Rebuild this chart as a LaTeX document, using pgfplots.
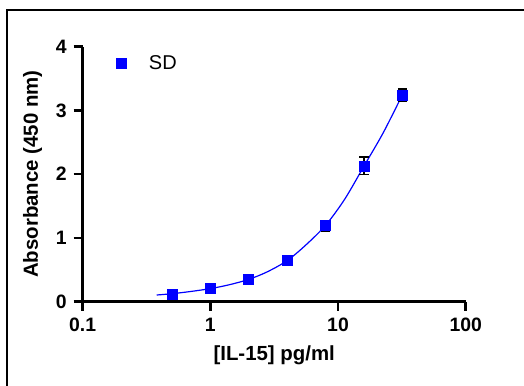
\documentclass[border=0pt]{standalone}
\usepackage{fontspec}
\setmainfont{Liberation Sans}
\usepackage{pgfplots}
\pgfplotsset{compat=1.18}
\definecolor{ptblue}{RGB}{0,0,255}
\begin{document}
\begin{tikzpicture}
\useasboundingbox (0,0) rectangle (262pt,192.5pt);
\draw[line width=0.8pt] (3.5pt,-1pt) -- (3.5pt,187.5pt) -- (263pt,187.5pt);
\begin{axis}[
  at={(41.35pt,41.65pt)}, anchor=south west,
  width=191.5pt, height=127.5pt, scale only axis,
  xmode=log, xmin=0.1, xmax=100, ymin=0, ymax=4,
  axis x line*=bottom, axis y line*=left,
  axis line style={line width=1.3pt},
  xtick={0.1,1,10,100}, xticklabels={0.1,1,10,100},
  ytick={0,1,2,3,4},
  minor tick num=0, minor x tick style={draw=none},
  log ticks with fixed point,
  tick align=outside, major tick length=4.5pt,
  tick style={line width=1.3pt, black},
  /pgf/number format/assume math mode=true,
  tick label style={font=\fontsize{9.7pt}{11pt}\selectfont\bfseries},
  label style={font=\fontsize{10.2pt}{12pt}\selectfont\bfseries},
  xlabel={[IL-15] pg/ml},
  ylabel={Absorbance (450 nm)},
  legend style={draw=none, fill=none, at={(0.07,1.0)}, anchor=north west,
    font=\fontsize{10pt}{12pt}\selectfont},
  legend cell align=left,
]
\addplot[ptblue, line width=0.6pt, smooth, forget plot] coordinates {
 (0.38,0.105) (0.5,0.125) (0.7,0.16) (1,0.205) (1.4,0.265) (2,0.35)
 (2.8,0.47) (4,0.645) (5.6,0.89) (8,1.2) (11.3,1.61) (16,2.13)
 (22.6,2.65) (32,3.25)
};
\addplot[only marks, mark=square*, mark size=2.5pt, mark options={ptblue, draw=ptblue},
  error bars/.cd, y dir=both, y explicit,
  error bar style={black, line width=0.6pt},
  error mark options={rotate=90, mark size=2.3pt, black, line width=0.6pt}]
  coordinates {
 (0.5,0.12) +- (0,0.02)
 (1,0.21) +- (0,0.02)
 (2,0.35) +- (0,0.02)
 (4,0.645) +- (0,0.03)
 (8,1.19) +- (0,0.08)
 (16,2.13) +- (0,0.14)
 (32,3.24) +- (0,0.095)
};
\addlegendentry{\hspace{9.5pt}SD}
\end{axis}
\end{tikzpicture}
\end{document}
